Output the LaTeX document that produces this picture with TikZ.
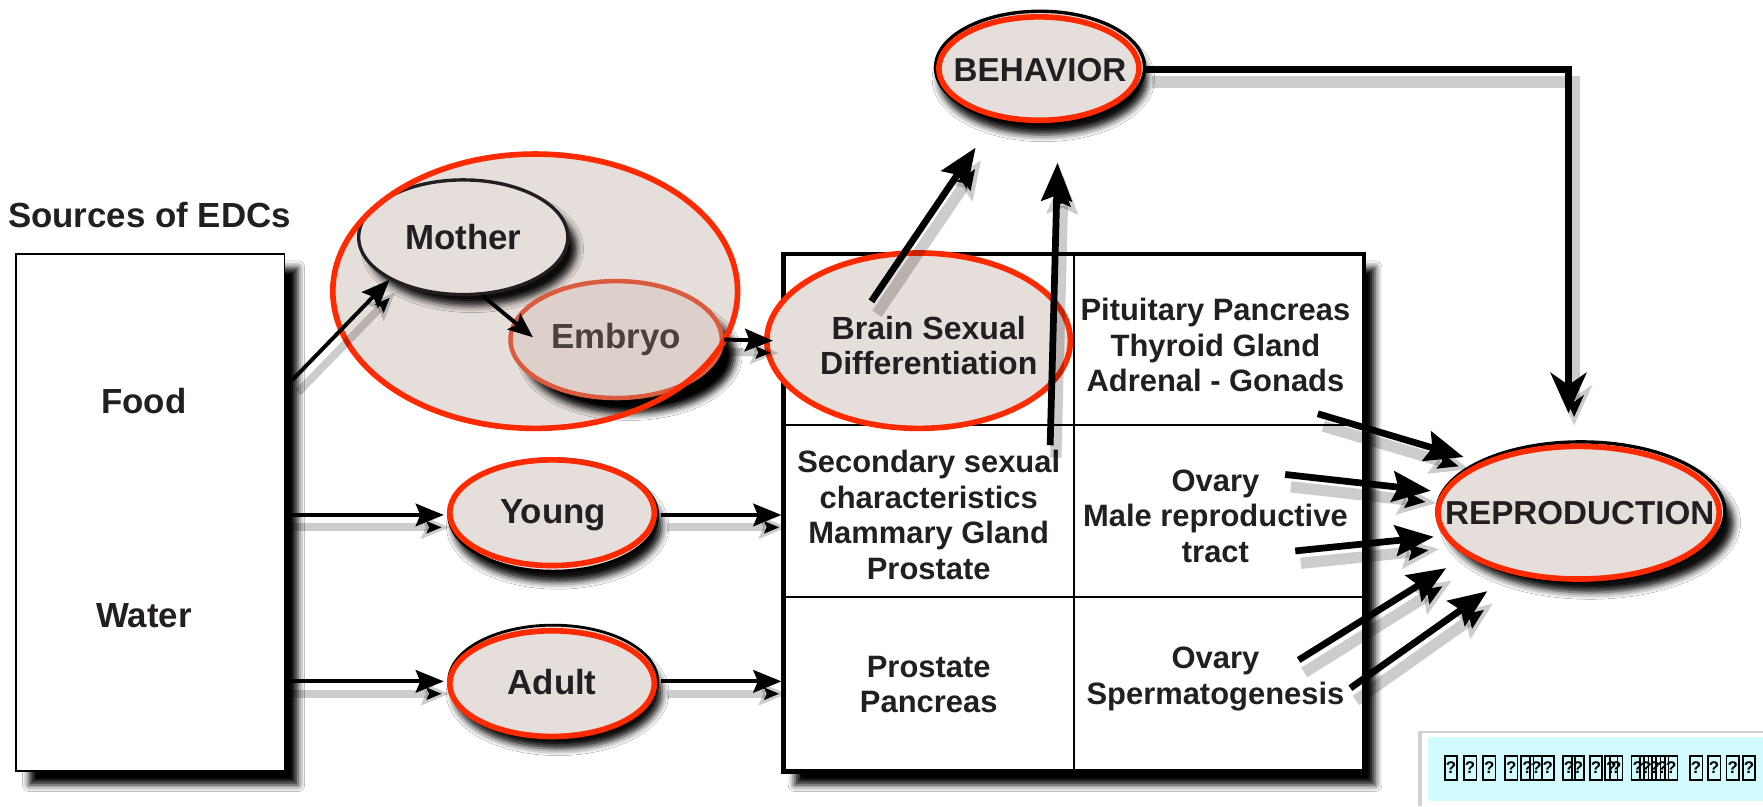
\documentclass[tikz,border=0pt]{standalone}
\usepackage{fontspec}
\setmainfont{Liberation Sans}
\usetikzlibrary{shapes.geometric,arrows.meta,shadows.blur,calc}
\definecolor{beige}{HTML}{E6DEDA}
\definecolor{embfill}{HTML}{DDD0CA}
\definecolor{redline}{HTML}{FF2A00}
\definecolor{embline}{HTML}{DA5B3E}
\definecolor{ink}{HTML}{231F20}
\definecolor{embink}{HTML}{4A403C}
\definecolor{cyanbox}{HTML}{D2FBFD}
\tikzset{
  lab/.style={font=\bfseries\fontsize{31}{34}\selectfont, text=ink},
  cell/.style={font=\bfseries\fontsize{27.5}{31.5}\selectfont, align=center, text=ink},
  capl/.style={font=\bfseries\fontsize{29.5}{32}\selectfont, text=ink},
  oval/.style={ellipse, inner sep=0pt, fill=beige},
  shad/.style={blur shadow={shadow xshift=#1, shadow yshift=-10pt, shadow blur radius=6pt, shadow opacity=95}},
  ash/.style={preaction={draw=black, draw opacity=0.2, line width=#1, transform canvas={shift={(5pt,-11pt)}}}},
  thinarr/.style={line width=3.5pt, -{Stealth[length=25pt,width=20pt,inset=4pt]}, ash=7pt},
  bigarr/.style={line width=6pt, -{Stealth[length=34pt,width=27pt,inset=5pt]}, ash=10pt},
  qbox/.style={draw=black, line width=1.4pt, inner sep=0pt, minimum width=11pt, minimum height=21pt,
     font=\bfseries\fontsize{15}{15}\selectfont, text=black, fill=none}
}
\begin{document}
\begin{tikzpicture}[x=1pt,y=-1pt]
\useasboundingbox (0,0) rectangle (1568,717);
\fill[white] (0,0) rectangle (1568,717);

% Sources
\node[lab] (srclabel) at (133,191) {Sources of EDCs};
\node[draw=black, line width=1.5pt, fill=white, minimum width=239pt, minimum height=460pt, inner sep=0pt,
  blur shadow={shadow xshift=12pt, shadow yshift=-12pt, shadow blur radius=6pt, shadow opacity=100}] (sources) at (133.5,456) {};
\node[lab] (food) at (128,357) {Food};
\node[lab] (water) at (128,548) {Water};

% group
\node[ellipse, fill=beige, minimum width=360pt, minimum height=244pt, inner sep=0pt] (group) at (476,259) {};
\node[oval, lab, draw=ink, line width=3pt, minimum width=186pt, minimum height=102pt, shad=8pt] (mother) at (412,211) {Mother};
\node[ellipse, inner sep=0pt, fill=embfill, draw=embline, line width=4pt, minimum width=188pt, minimum height=104pt,
  lab, text=embink, blur shadow={shadow xshift=12pt, shadow yshift=-14pt, shadow blur radius=6pt, shadow opacity=100}] (embryo) at (548,302) {Embryo};
\draw[redline, line width=5pt] (group.center) ellipse (180 and 122);

% table
\node[draw=black, line width=4pt, fill=white, minimum width=516pt, minimum height=460pt, inner sep=0pt,
  blur shadow={shadow xshift=10pt, shadow yshift=-12pt, shadow blur radius=6pt, shadow opacity=100}] (table) at (955,456) {};
\draw[line width=2pt] (table.north) -- (table.south);
\draw[line width=2pt] (table.west |- 0,378) -- (table.east |- 0,378);
\draw[line width=2pt] (table.west |- 0,531) -- (table.east |- 0,531);

\node[oval, draw=redline, line width=5pt, minimum width=270pt, minimum height=156pt] (brain) at (817,303) {};
\node[cell, font=\bfseries\fontsize{28.5}{31}\selectfont] (braintxt) at (826,307) {Brain Sexual\\Differentiation};
\node[cell] (tr) at (1081,307) {Pituitary Pancreas\\Thyroid Gland\\Adrenal - Gonads};
\node[cell] (ml) at (826,458) {Secondary sexual\\characteristics\\Mammary Gland\\Prostate};
\node[cell] (mr) at (1081,459) {Ovary\\Male reproductive\\tract};
\node[cell] (bl) at (826,609) {Prostate\\Pancreas};
\node[cell] (br) at (1081,604) {Ovary\\Spermatogenesis};

% Young / Adult
\node[oval, draw=black, line width=2.5pt, minimum width=186pt, minimum height=100pt, shad=4pt] (young) at (492,458) {};
\draw[redline, line width=5pt] ([xshift=-1pt,yshift=2pt]young.center) ellipse (91 and 47);
\node[lab] (youngtxt) at (492,458) {Young};
\node[oval, draw=black, line width=2.5pt, minimum width=186pt, minimum height=100pt, shad=4pt] (adult) at (492,606) {};
\draw[redline, line width=5pt] ([xshift=-1pt,yshift=-2pt]adult.center) ellipse (91 and 47);
\node[lab] (adulttxt) at (491,607) {Adult};

% BEHAVIOR
\node[oval, draw=black, line width=3pt, minimum width=186pt, minimum height=100pt, shad=3pt] (behavior) at (925,60) {};
\draw[redline, line width=5pt] ([xshift=-1pt,yshift=-1pt]behavior.center) ellipse (89 and 46);
\node[capl] (behtxt) at (925,62) {BEHAVIOR};

% REPRODUCTION
\node[oval, draw=black, line width=3pt, minimum width=256pt, minimum height=124pt, shad=8pt] (repro) at (1406,455) {};
\draw[redline, line width=5pt] ([xshift=-2pt,yshift=-1pt]repro.center) ellipse (125 and 59);
\node[capl] (reprotxt) at (1405,456) {REPRODUCTION};

% connectors
\coordinate (s0) at (260,338);
\draw[thinarr] (s0) -- (mother.210);
\draw[line width=3.5pt, -{Stealth[length=22pt,width=18pt,inset=4pt]}] (mother.-72) -- ([xshift=22pt,yshift=2pt]embryo.west);
\draw[thinarr] (embryo.east) -- ([xshift=8pt]brain.west);

\draw[thinarr] (sources.east |- young.west) -- ([xshift=-3pt]young.west);
\draw[thinarr] ([xshift=2pt]young.east) -- (table.west |- young.east);
\draw[thinarr] (sources.east |- adult.west) -- ([xshift=-3pt]adult.west);
\draw[thinarr] ([xshift=2pt]adult.east) -- (table.west |- adult.east);

\coordinate (b1) at (775,268);
\coordinate (b2) at (934,396);
\draw[bigarr, shorten >=30pt] (b1) -- (behavior.229);
\draw[bigarr, shorten >=34pt] (b2) -- (behavior.-72);

\coordinate (bend) at (1395,62);
\draw[line width=6pt, -{Stealth[length=36pt,width=32pt,inset=11pt]}, ash=10pt, shorten >=24pt]
  (behavior.east |- bend) -- (bend) -- (bend |- repro.north);

\coordinate (s1) at (1172,368);
\coordinate (s2) at (1143,422);
\coordinate (s3) at (1152,490);
\coordinate (s4) at (1155,587);
\coordinate (s5) at (1201,612);
\draw[bigarr, shorten >=13pt] (s1) -- (repro.154);
\draw[bigarr, shorten >=9pt] (s2) -- (repro.172);
\draw[bigarr, shorten >=9pt] (s3) -- (repro.190);
\draw[bigarr, shorten >=21pt] (s4) -- (repro.201);
\draw[bigarr, shorten >=26pt] (s5) -- (repro.222);

% bottom-right box
\fill[black!18] (1261,650) rectangle (1568,717);
\fill[white] (1265,652) rectangle (1568,717);
\node[fill=cyanbox, minimum width=298pt, minimum height=57pt, inner sep=0pt, anchor=north west] (note) at (1270,655) {};
\foreach \x [count=\i] in {1285,1302,1319,1338.5,1353,1361,1371,1390,1398,1414,1427.5,1432,1451,1458.5,1466,1473,1481,1503,1519,1535.6,1550}
  \node[qbox] (q\i) at (\x+5.5,683) {?};
\end{tikzpicture}
\end{document}
